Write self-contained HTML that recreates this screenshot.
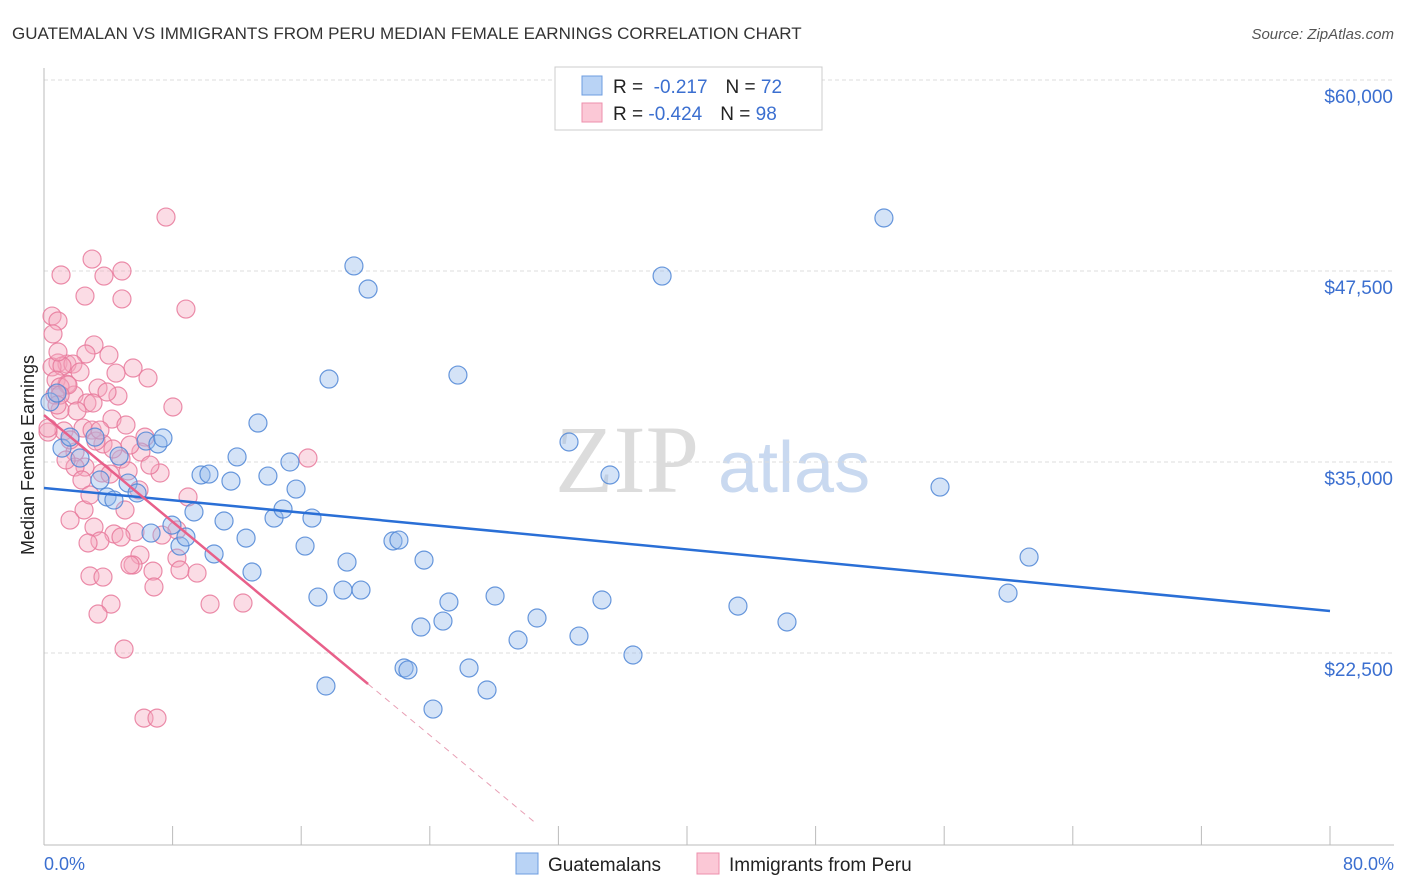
<!DOCTYPE html>
<html><head><meta charset="utf-8"><style>
body{margin:0;background:#fff;font-family:"Liberation Sans",sans-serif}
svg{display:block}
</style></head><body>
<svg id="c" width="1406" height="892" xmlns="http://www.w3.org/2000/svg">
<text x="12" y="39" font-size="17" fill="#333">GUATEMALAN VS IMMIGRANTS FROM PERU MEDIAN FEMALE EARNINGS CORRELATION CHART</text>
<text x="1394" y="39" font-size="15" fill="#555" text-anchor="end" font-style="italic">Source: ZipAtlas.com</text>
<text x="555" y="492" font-size="96" fill="#dcdcdc" font-family="Liberation Serif,serif">ZIP</text>
<text x="718" y="492" font-size="72" fill="#c9d9f0">atlas</text>
<g id="grid"></g><g id="axes"></g><g id="pts"></g><g id="trend"></g>
<text transform="translate(34,455) rotate(-90)" font-size="18" fill="#222" text-anchor="middle">Median Female Earnings</text>
<text x="44" y="870" font-size="18" fill="#3b6fd0">0.0%</text>
<text x="1394" y="870" font-size="18" fill="#3b6fd0" text-anchor="end">80.0%</text>
<g>
<rect x="555" y="67" width="267" height="63" fill="#fff" stroke="#ccc"/>
<rect x="582" y="76" width="20" height="19" fill="#b9d3f5" stroke="#6d9ce0"/>
<rect x="582" y="103" width="20" height="19" fill="#fbc8d6" stroke="#ee8fac"/>
<text x="613" y="93" font-size="19" fill="#222">R = <tspan fill="#3b6fd0">&#160;-0.217</tspan><tspan dx="18">N = </tspan><tspan fill="#3b6fd0">72</tspan></text>
<text x="613" y="120" font-size="19" fill="#222">R = <tspan fill="#3b6fd0">-0.424</tspan><tspan dx="18">N = </tspan><tspan fill="#3b6fd0">98</tspan></text>
</g>
<g>
<rect x="516" y="853" width="22" height="21" fill="#b9d3f5" stroke="#6d9ce0"/>
<text x="548" y="871" font-size="19" fill="#222">Guatemalans</text>
<rect x="697" y="853" width="22" height="21" fill="#fbc8d6" stroke="#ee8fac"/>
<text x="729" y="871" font-size="19" fill="#222">Immigrants from Peru</text>
</g>
</svg>
<script>
const yTicks=[60000,47500,35000,22500];
const yTickLabels=["$60,000","$47,500","$35,000","$22,500"];
const blueX=[0.37,1.12,1.62,2.24,3.17,3.48,3.92,4.35,4.67,5.23,5.79,6.35,7.09,7.40,6.66,7.96,8.46,8.83,9.33,9.77,10.26,11.20,10.58,11.63,12.01,12.57,12.94,13.31,13.93,14.31,14.87,15.30,15.68,16.24,16.67,17.04,17.54,17.73,18.60,18.85,19.28,19.72,20.16,21.71,22.08,22.40,22.64,23.45,23.64,24.20,24.82,25.19,25.75,26.44,27.56,28.06,29.49,30.67,32.66,33.28,34.71,35.21,36.64,38.45,43.17,46.22,52.25,55.74,59.97,61.28,0.81];
const blueY=[38.93,35.91,36.63,35.26,36.63,33.82,32.71,32.51,35.39,33.62,32.97,36.37,36.18,36.57,30.35,30.87,29.50,30.09,31.73,34.15,34.21,31.14,28.98,33.75,35.33,30.02,27.80,37.55,34.08,31.33,31.92,35.00,33.23,29.50,31.33,26.16,20.34,40.43,26.62,28.45,47.83,26.62,46.32,29.83,29.89,21.52,21.39,24.20,28.58,18.83,24.59,25.84,40.69,21.52,20.08,26.23,23.35,24.79,36.31,23.61,25.97,34.15,22.37,47.17,25.57,24.53,50.97,33.36,26.42,28.78,39.51];
const pinkX=[7.59,2.99,4.85,1.06,3.73,2.55,4.85,8.83,0.50,0.87,0.56,3.11,2.61,4.04,0.87,1.43,1.80,0.50,1.12,5.54,4.48,6.47,0.75,1.43,1.00,3.36,4.60,1.87,2.67,8.02,3.05,1.00,2.05,4.23,5.10,2.43,1.24,2.99,6.28,0.25,3.67,1.93,3.23,6.03,4.79,16.42,2.55,1.93,7.22,3.61,5.23,5.91,4.11,8.96,2.49,3.11,5.66,4.35,8.27,7.34,3.48,2.74,4.79,5.97,8.27,6.78,8.46,9.52,5.54,5.35,2.86,3.67,6.84,10.33,12.38,4.17,3.36,4.98,6.22,7.03,1.49,0.68,1.62,3.48,5.35,2.36,1.00,0.81,4.29,1.37,0.25,1.62,6.59,2.24,3.92,5.04,0.87,2.86];
const pinkY=[51.03,48.28,47.50,47.24,47.17,45.86,45.67,45.01,44.55,44.23,43.38,42.66,42.07,42.00,41.48,41.41,41.41,41.22,41.28,41.15,40.82,40.50,40.36,40.10,39.91,39.84,39.32,39.38,38.86,38.60,38.86,38.40,38.34,37.81,37.42,37.22,37.03,37.09,36.63,36.96,36.18,35.65,36.37,35.65,35.19,35.26,34.67,34.67,34.28,34.28,34.41,33.17,34.21,32.71,31.86,30.74,30.42,30.29,30.55,30.22,29.83,29.70,30.09,28.91,28.71,27.86,27.93,27.73,28.26,28.26,27.54,27.47,26.82,25.70,25.77,25.70,25.05,22.76,18.24,18.24,40.04,39.38,36.44,37.09,36.11,33.82,39.38,38.73,35.85,35.13,37.22,31.20,34.80,40.89,39.58,31.86,42.20,32.84];
const blueTrend=[33.30,-0.1006];   // intercept (k$), slope per pct
const pinkTrend=[38.07,-0.873];
const pinkSolidEnd=20.16, pinkDashEnd=30.67, blueEnd=80;
const NS="http://www.w3.org/2000/svg";
const X=p=>44+p*(1286/80);
const Y=v=>80+(60-v)*191/12.5;
function mk(t,a,parent){const e=document.createElementNS(NS,t);for(const k in a)e.setAttribute(k,a[k]);document.getElementById(parent).appendChild(e);return e;}
yTicks.forEach((t,i)=>{
 const g=mk('line',{x1:44,x2:1394,y1:Y(t/1000),y2:Y(t/1000),stroke:'#ddd','stroke-dasharray':'4,3'},'grid');
 
 
 const l=mk('text',{x:1393,y:Y(t/1000)+23,'font-size':19,fill:'#3b6fd0','text-anchor':'end'},'grid');
 l.textContent=yTickLabels[i];
 
 
});
const ax=mk('line',{x1:44,x2:44,y1:68,y2:845,stroke:'#bbb'},'axes');


const bx=mk('line',{x1:44,x2:1394,y1:845,y2:845,stroke:'#bbb'},'axes');


for(let i=1;i<=10;i++){
 const t=mk('line',{x1:X(i*8),x2:X(i*8),y1:826,y2:845,stroke:'#bbb'},'axes');
 
 
}
function pts(xs,ys,fill,stroke,name){
 xs.forEach((p,i)=>{
  const c=mk('circle',{cx:X(p),cy:Y(ys[i]),r:9,fill:fill,'fill-opacity':0.4,stroke:stroke,'stroke-width':1.2,'stroke-opacity':0.85},'pts');
  
  
 });
}
pts(pinkX,pinkY,'#f4a7bf','#e8799b','peru-point');
pts(blueX,blueY,'#93b9ec','#4f86d6','guatemalan-point');
const tv=(t,p)=>t[0]+t[1]*p;
const bl=mk('line',{x1:X(0),y1:Y(tv(blueTrend,0)),x2:X(blueEnd),y2:Y(tv(blueTrend,blueEnd)),stroke:'#2a6fd6','stroke-width':2.5},'trend');


const pl=mk('line',{x1:X(0),y1:Y(tv(pinkTrend,0)),x2:X(pinkSolidEnd),y2:Y(tv(pinkTrend,pinkSolidEnd)),stroke:'#e8608a','stroke-width':2.5},'trend');


const pd=mk('line',{x1:X(pinkSolidEnd),y1:Y(tv(pinkTrend,pinkSolidEnd)),x2:X(pinkDashEnd),y2:Y(tv(pinkTrend,pinkDashEnd)),stroke:'#e8a0b5','stroke-width':1,'stroke-dasharray':'6,5'},'trend');


</script>
</body></html>
